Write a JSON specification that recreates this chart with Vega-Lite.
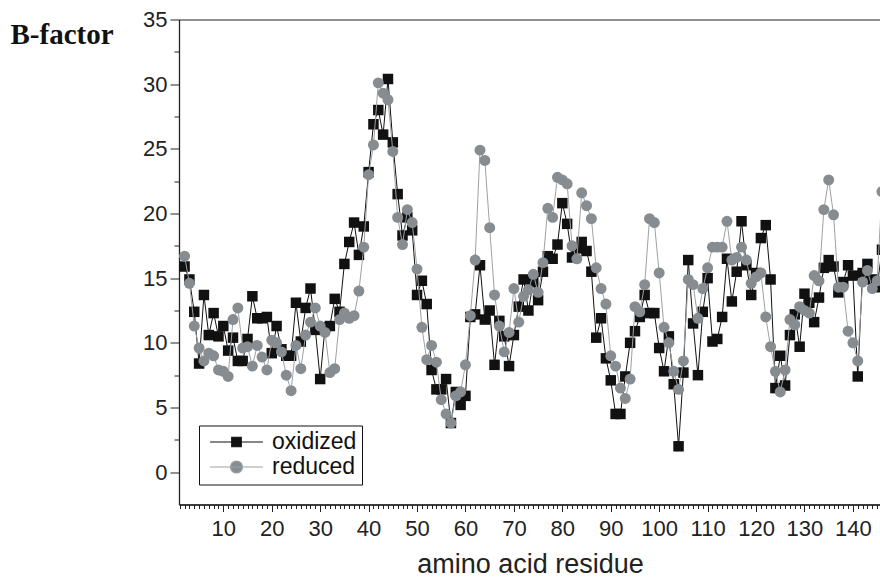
{
  "$schema": "https://vega.github.io/schema/vega-lite/v6.json",
  "width": 702,
  "height": 485,
  "autosize": {"type": "none"},
  "padding": {"left": 179, "top": 19.5, "right": 0, "bottom": 75},
  "background": "white",
  "config": {
    "view": {"stroke": "#222222", "strokeWidth": 1},
    "axis": {
      "domainColor": "#222222", "domainWidth": 1.3, "tickColor": "#222222", "tickWidth": 1,
      "labelFont": "Liberation Sans", "labelColor": "#222222", "titleFont": "Liberation Sans",
      "titleColor": "#222222", "grid": false, "labelOverlap": false, "labelFlush": false
    }
  },
  "data": {
    "values": [
      {"res": 2, "oxidized": 15.9, "reduced": 16.7},
      {"res": 3, "oxidized": 14.9, "reduced": 14.6},
      {"res": 4, "oxidized": 12.4, "reduced": 11.3},
      {"res": 5, "oxidized": 8.4, "reduced": 9.6},
      {"res": 6, "oxidized": 13.7, "reduced": 8.6},
      {"res": 7, "oxidized": 10.6, "reduced": 9.2},
      {"res": 8, "oxidized": 12.3, "reduced": 9.0},
      {"res": 9, "oxidized": 10.5, "reduced": 7.9},
      {"res": 10, "oxidized": 11.3, "reduced": 7.8},
      {"res": 11, "oxidized": 9.4, "reduced": 7.4},
      {"res": 12, "oxidized": 10.4, "reduced": 11.8},
      {"res": 13, "oxidized": 8.6, "reduced": 12.7},
      {"res": 14, "oxidized": 8.6, "reduced": 9.6},
      {"res": 15, "oxidized": 10.3, "reduced": 9.7},
      {"res": 16, "oxidized": 13.6, "reduced": 8.2},
      {"res": 17, "oxidized": 11.9, "reduced": 9.8},
      {"res": 18, "oxidized": 11.9, "reduced": 8.9},
      {"res": 19, "oxidized": 12.0, "reduced": 7.9},
      {"res": 20, "oxidized": 9.2, "reduced": 10.2},
      {"res": 21, "oxidized": 11.3, "reduced": 10.0},
      {"res": 22, "oxidized": 9.5, "reduced": 9.3},
      {"res": 23, "oxidized": 9.0, "reduced": 7.5},
      {"res": 24, "oxidized": 9.0, "reduced": 6.3},
      {"res": 25, "oxidized": 13.1, "reduced": 9.8},
      {"res": 26, "oxidized": 10.1, "reduced": 8.0},
      {"res": 27, "oxidized": 12.7, "reduced": 10.6},
      {"res": 28, "oxidized": 14.2, "reduced": 11.6},
      {"res": 29, "oxidized": 11.0, "reduced": 12.7},
      {"res": 30, "oxidized": 7.2, "reduced": 11.3},
      {"res": 31, "oxidized": 11.2, "reduced": 10.8},
      {"res": 32, "oxidized": 11.3, "reduced": 7.7},
      {"res": 33, "oxidized": 13.4, "reduced": 8.0},
      {"res": 34, "oxidized": 12.4, "reduced": 11.8},
      {"res": 35, "oxidized": 16.1, "reduced": 12.3},
      {"res": 36, "oxidized": 17.8, "reduced": 11.9},
      {"res": 37, "oxidized": 19.3, "reduced": 12.1},
      {"res": 38, "oxidized": 16.8, "reduced": 14.0},
      {"res": 39, "oxidized": 19.0, "reduced": 17.4},
      {"res": 40, "oxidized": 23.2, "reduced": 23.0},
      {"res": 41, "oxidized": 26.9, "reduced": 25.3},
      {"res": 42, "oxidized": 28.0, "reduced": 30.1},
      {"res": 43, "oxidized": 26.1, "reduced": 29.3},
      {"res": 44, "oxidized": 30.4, "reduced": 28.8},
      {"res": 45, "oxidized": 25.5, "reduced": 24.8},
      {"res": 46, "oxidized": 21.5, "reduced": 19.7},
      {"res": 47, "oxidized": 18.3, "reduced": 17.6},
      {"res": 48, "oxidized": 19.7, "reduced": 20.3},
      {"res": 49, "oxidized": 18.7, "reduced": 19.3},
      {"res": 50, "oxidized": 13.7, "reduced": 15.7},
      {"res": 51, "oxidized": 14.8, "reduced": 11.2},
      {"res": 52, "oxidized": 13.0, "reduced": 8.7},
      {"res": 53, "oxidized": 7.9, "reduced": 9.8},
      {"res": 54, "oxidized": 6.4, "reduced": 8.5},
      {"res": 55, "oxidized": 6.4, "reduced": 5.6},
      {"res": 56, "oxidized": 7.2, "reduced": 4.5},
      {"res": 57, "oxidized": 3.8, "reduced": 3.8},
      {"res": 58, "oxidized": 6.2, "reduced": 5.9},
      {"res": 59, "oxidized": 5.2, "reduced": 6.2},
      {"res": 60, "oxidized": 5.9, "reduced": 8.3},
      {"res": 61, "oxidized": 12.0, "reduced": 12.1},
      {"res": 62, "oxidized": 12.2, "reduced": 16.4},
      {"res": 63, "oxidized": 16.0, "reduced": 24.9},
      {"res": 64, "oxidized": 11.8, "reduced": 24.1},
      {"res": 65, "oxidized": 12.5, "reduced": 18.9},
      {"res": 66, "oxidized": 8.3, "reduced": 13.7},
      {"res": 67, "oxidized": 11.7, "reduced": 11.3},
      {"res": 68, "oxidized": 10.5, "reduced": 9.3},
      {"res": 69, "oxidized": 8.2, "reduced": 10.8},
      {"res": 70, "oxidized": 10.6, "reduced": 14.2},
      {"res": 71, "oxidized": 12.8, "reduced": 11.6},
      {"res": 72, "oxidized": 14.9, "reduced": 13.6},
      {"res": 73, "oxidized": 12.5, "reduced": 14.1},
      {"res": 74, "oxidized": 14.7, "reduced": 15.3},
      {"res": 75, "oxidized": 13.3, "reduced": 13.9},
      {"res": 76, "oxidized": 15.5, "reduced": 16.2},
      {"res": 77, "oxidized": 16.7, "reduced": 20.4},
      {"res": 78, "oxidized": 16.5, "reduced": 19.7},
      {"res": 79, "oxidized": 17.6, "reduced": 22.8},
      {"res": 80, "oxidized": 20.8, "reduced": 22.6},
      {"res": 81, "oxidized": 19.2, "reduced": 22.3},
      {"res": 82, "oxidized": 16.6, "reduced": 17.5},
      {"res": 83, "oxidized": 17.3, "reduced": 16.5},
      {"res": 84, "oxidized": 17.8, "reduced": 21.6},
      {"res": 85, "oxidized": 17.1, "reduced": 20.6},
      {"res": 86, "oxidized": 15.5, "reduced": 19.6},
      {"res": 87, "oxidized": 10.4, "reduced": 15.8},
      {"res": 88, "oxidized": 11.9, "reduced": 14.2},
      {"res": 89, "oxidized": 8.8, "reduced": 13.0},
      {"res": 90, "oxidized": 7.1, "reduced": 9.0},
      {"res": 91, "oxidized": 4.5, "reduced": 8.2},
      {"res": 92, "oxidized": 4.5, "reduced": 6.5},
      {"res": 93, "oxidized": 7.4, "reduced": 5.7},
      {"res": 94, "oxidized": 10.0, "reduced": 7.2},
      {"res": 95, "oxidized": 10.9, "reduced": 12.8},
      {"res": 96, "oxidized": 12.0, "reduced": 12.4},
      {"res": 97, "oxidized": 13.7, "reduced": 14.5},
      {"res": 98, "oxidized": 12.3, "reduced": 19.6},
      {"res": 99, "oxidized": 12.3, "reduced": 19.3},
      {"res": 100, "oxidized": 9.6, "reduced": 15.4},
      {"res": 101, "oxidized": 7.8, "reduced": 11.2},
      {"res": 102, "oxidized": 10.5, "reduced": 10.0},
      {"res": 103, "oxidized": 6.8, "reduced": 7.8},
      {"res": 104, "oxidized": 2.0, "reduced": 6.4},
      {"res": 105, "oxidized": 7.7, "reduced": 8.6},
      {"res": 106, "oxidized": 16.4, "reduced": 14.9},
      {"res": 107, "oxidized": 11.5, "reduced": 14.5},
      {"res": 108, "oxidized": 7.5, "reduced": 11.9},
      {"res": 109, "oxidized": 12.4, "reduced": 14.2},
      {"res": 110, "oxidized": 15.0, "reduced": 15.8},
      {"res": 111, "oxidized": 10.1, "reduced": 17.4},
      {"res": 112, "oxidized": 10.3, "reduced": 17.4},
      {"res": 113, "oxidized": 12.0, "reduced": 17.4},
      {"res": 114, "oxidized": 16.5, "reduced": 19.4},
      {"res": 115, "oxidized": 13.2, "reduced": 16.4},
      {"res": 116, "oxidized": 15.5, "reduced": 16.6},
      {"res": 117, "oxidized": 19.4, "reduced": 17.4},
      {"res": 118, "oxidized": 16.0, "reduced": 16.4},
      {"res": 119, "oxidized": 13.7, "reduced": 14.6},
      {"res": 120, "oxidized": 15.4, "reduced": 15.1},
      {"res": 121, "oxidized": 18.1, "reduced": 15.4},
      {"res": 122, "oxidized": 19.1, "reduced": 12.0},
      {"res": 123, "oxidized": 14.9, "reduced": 9.7},
      {"res": 124, "oxidized": 6.5, "reduced": 7.8},
      {"res": 125, "oxidized": 9.0, "reduced": 6.2},
      {"res": 126, "oxidized": 6.7, "reduced": 7.9},
      {"res": 127, "oxidized": 10.6, "reduced": 11.8},
      {"res": 128, "oxidized": 12.2, "reduced": 11.4},
      {"res": 129, "oxidized": 9.7, "reduced": 12.8},
      {"res": 130, "oxidized": 13.8, "reduced": 12.5},
      {"res": 131, "oxidized": 13.1, "reduced": 12.3},
      {"res": 132, "oxidized": 11.6, "reduced": 15.2},
      {"res": 133, "oxidized": 13.5, "reduced": 14.8},
      {"res": 134, "oxidized": 15.8, "reduced": 20.3},
      {"res": 135, "oxidized": 16.4, "reduced": 22.6},
      {"res": 136, "oxidized": 15.9, "reduced": 19.9},
      {"res": 137, "oxidized": 13.9, "reduced": 14.3},
      {"res": 138, "oxidized": 14.7, "reduced": 14.3},
      {"res": 139, "oxidized": 16.0, "reduced": 10.9},
      {"res": 140, "oxidized": 15.2, "reduced": 10.0},
      {"res": 141, "oxidized": 7.4, "reduced": 8.6},
      {"res": 142, "oxidized": 15.4, "reduced": 14.7},
      {"res": 143, "oxidized": 16.1, "reduced": 15.6},
      {"res": 144, "oxidized": 14.9, "reduced": 14.2},
      {"res": 145, "oxidized": 14.3, "reduced": 14.8},
      {"res": 146, "oxidized": 17.2, "reduced": 21.7}
    ]
  },
  "transform": [{"fold": ["oxidized", "reduced"], "as": ["series", "b"]}],
  "encoding": {
    "x": {
      "field": "res", "type": "quantitative",
      "scale": {"domain": [0.85, 145.8], "nice": false, "zero": false},
      "axis": {
        "values": [1,2,3,4,5,6,7,8,9,10,11,12,13,14,15,16,17,18,19,20,21,22,23,24,25,26,27,28,29,30,31,32,33,34,35,36,37,38,39,40,41,42,43,44,45,46,47,48,49,50,51,52,53,54,55,56,57,58,59,60,61,62,63,64,65,66,67,68,69,70,71,72,73,74,75,76,77,78,79,80,81,82,83,84,85,86,87,88,89,90,91,92,93,94,95,96,97,98,99,100,101,102,103,104,105,106,107,108,109,110,111,112,113,114,115,116,117,118,119,120,121,122,123,124,125,126,127,128,129,130,131,132,133,134,135,136,137,138,139,140,141,142,143,144,145],
        "format": "d",
        "labelExpr": "datum.value % 10 === 0 ? datum.label : ''",
        "tickSize": {"condition": {"test": "datum.value % 10 === 0", "value": 7}, "value": 4},
        "labelFontSize": 22, "labelPadding": 7,
        "title": "amino acid residue", "titleFontSize": 27, "titleFontWeight": "normal", "titlePadding": 12
      }
    },
    "y": {
      "field": "b", "type": "quantitative",
      "scale": {"domain": [-2.5, 35], "nice": false, "zero": false},
      "axis": {
        "values": [0, 2.5, 5, 7.5, 10, 12.5, 15, 17.5, 20, 22.5, 25, 27.5, 30, 32.5, 35],
        "format": "d",
        "labelExpr": "datum.value % 5 === 0 ? datum.label : ''",
        "tickSize": {"condition": {"test": "datum.value % 5 === 0", "value": 9}, "value": 5},
        "labelFontSize": 22, "labelPadding": 3,
        "title": "B-factor", "titleFont": "Liberation Serif", "titleFontSize": 29, "titleFontWeight": "bold",
        "titleColor": "#111111", "titleAngle": 0, "titleAlign": "left", "titleBaseline": "alphabetic",
        "titleX": -169, "titleY": 24
      }
    }
  },
  "layer": [
    {
      "transform": [{"filter": "datum.series === 'oxidized'"}],
      "mark": {"type": "line", "strokeWidth": 1},
      "encoding": {
        "color": {
          "field": "series", "type": "nominal",
          "scale": {"domain": ["oxidized", "reduced"], "range": ["#111111", "#9da1a5"]},
          "legend": {
            "title": null, "orient": "bottom-left", "offset": 20, "padding": 5,
            "strokeColor": "#111111", "fillColor": "white",
            "labelFont": "Liberation Sans", "labelFontSize": 23, "labelColor": "#111111",
            "symbolSize": 144, "symbolOffset": 21, "labelOffset": 24, "rowPadding": 1,
            "encode": {
              "symbols": {
                "update": {
                  "shape": {"signal": "datum.value === 'oxidized' ? 'M-4.4,0H4.4M-0.8,-0.8H0.8V0.8H-0.8Z' : 'M-4.4,0H4.4M-1,0A1,1,0,1,1,1,0A1,1,0,1,1,-1,0Z'"},
                  "fill": {"signal": "datum.value === 'oxidized' ? '#111111' : '#878c91'"},
                  "stroke": {"signal": "datum.value === 'oxidized' ? '#111111' : '#9da1a5'"},
                  "strokeWidth": {"value": 1.1},
                  "size": {"value": 144},
                  "opacity": {"value": 1}
                }
              }
            }
          }
        }
      }
    },
    {
      "transform": [{"filter": "datum.series === 'oxidized'"}],
      "mark": {"type": "point", "shape": "square", "filled": true, "size": 110, "color": "#111111", "opacity": 1}
    },
    {
      "transform": [{"filter": "datum.series === 'reduced'"}],
      "mark": {"type": "line", "strokeWidth": 1, "color": "#9da1a5"}
    },
    {
      "transform": [{"filter": "datum.series === 'reduced'"}],
      "mark": {"type": "point", "shape": "circle", "filled": true, "size": 120, "color": "#878c91", "opacity": 1}
    }
  ]
}
